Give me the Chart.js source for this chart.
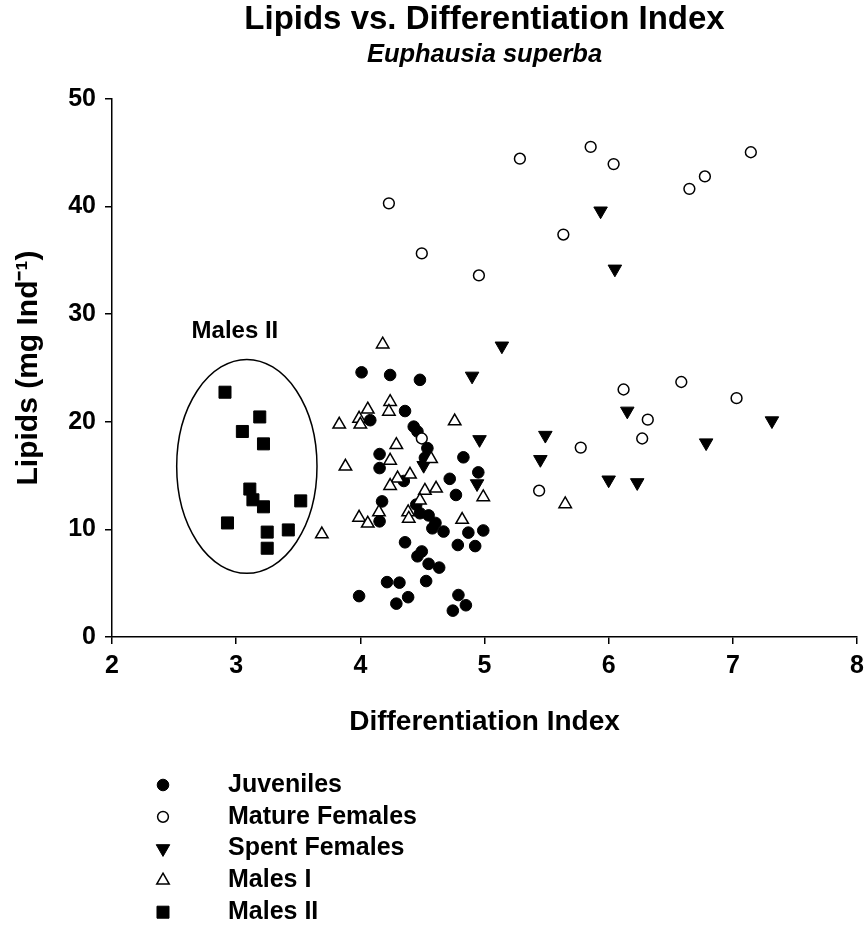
<!DOCTYPE html>
<html><head><meta charset="utf-8">
<script src="https://cdn.jsdelivr.net/npm/chart.js@4.4.1/dist/chart.umd.min.js"></script>
<style>html,body{margin:0;padding:0;background:#fff}canvas{display:block}</style>
</head><body>
<canvas id="c" width="865" height="928"></canvas>
<script>
// ---------- data ----------
const categories = ['Juveniles', 'Mature Females', 'Spent Females', 'Males I', 'Males II'];

const juveniles = [[4.01,24.6],[4.24,24.35],[4.48,23.9],[4.36,21.0],[4.08,20.15],[4.43,19.55],[4.46,19.1],
  [4.54,17.55],[4.52,16.65],[4.83,16.7],[4.155,17.0],[4.155,15.7],[4.95,15.3],[4.35,14.5],[4.72,14.7],
  [4.77,13.2],[4.175,12.6],[4.45,12.3],[4.155,10.75],[4.48,11.5],[4.55,11.3],[4.605,10.6],[4.58,10.1],
  [4.67,9.8],[4.87,9.7],[4.99,9.9],[4.785,8.55],[4.925,8.45],[4.36,8.8],[4.495,7.95],[4.46,7.5],[4.55,6.8],
  [4.635,6.45],[4.215,5.1],[4.315,5.05],[4.53,5.2],[3.99,3.8],[4.29,3.1],[4.385,3.7],[4.79,3.9],[4.85,2.95],[4.745,2.45]];

const matureFemales = [[4.23,40.3],[5.285,44.45],[5.855,45.55],[6.04,43.95],[7.145,45.05],[6.775,42.8],
  [6.65,41.65],[4.495,35.65],[4.955,33.6],[5.635,37.4],[6.12,23.0],[6.585,23.7],[7.03,22.2],[6.315,20.2],
  [6.27,18.45],[5.775,17.6],[5.44,13.6],[4.495,18.45]];

const spentFemales = [[5.935,39.6],[6.05,34.2],[5.14,27.05],[4.90,24.25],[4.96,18.35],[4.51,15.95],[4.94,14.25],
  [6.15,21.0],[7.315,20.1],[6.785,18.05],[5.49,18.75],[5.45,16.5],[6.0,14.6],[6.23,14.35]];

const malesI = [[4.18,27.2],[4.24,21.85],[4.06,21.15],[4.23,20.95],[3.99,20.3],[3.83,19.75],[4.0,19.75],
  [4.76,20.05],[4.29,17.85],[4.24,16.4],[4.57,16.55],[3.88,15.85],[4.40,15.1],[4.30,14.75],[4.24,14.05],
  [4.52,13.6],[4.61,13.8],[4.99,13.0],[4.48,12.7],[4.385,11.6],[4.39,11.0],[4.15,11.6],[3.99,11.1],
  [4.06,10.55],[4.82,10.9],[3.69,9.55],[5.65,12.35]];

const malesII = [[2.91,22.75],[3.19,20.45],[3.05,19.1],[3.22,17.95],[3.11,13.75],[3.135,12.75],[3.22,12.1],
  [3.52,12.65],[2.93,10.6],[3.25,9.75],[3.42,9.95],[3.25,8.25]];

const xTicks = [2, 3, 4, 5, 6, 7, 8];
const yTicks = [0, 10, 20, 30, 40, 50];

const chartTitle = 'Lipids vs. Differentiation Index';
const chartSubtitle = 'Euphausia superba';
const xTitle = 'Differentiation Index';
const yTitle = 'Lipids (mg Ind\u207B\u00B9)';
const groupNote = 'Males II';

// annotation (data units)
const noteEllipse = { cx: 3.086, cy: 15.86, rx: 0.565, ry: 9.94 };
const notePos = { x: 2.99, y: 28.4 };

// ---------- styles ----------
const FONT = "'Liberation Sans', Arial, Helvetica, sans-serif";
const seriesData = [juveniles, matureFemales, spentFemales, malesI, malesII];
const seriesStyle = [
  { pointStyle: 'circle',   radius: 5.8, bg: '#000', bw: 1,   rot: 0 },
  { pointStyle: 'circle',   radius: 5.4, bg: '#fff', bw: 1.5, rot: 0 },
  { pointStyle: 'triangle', radius: 7.8, bg: '#000', bw: 1,   rot: 180 },
  { pointStyle: 'triangle', radius: 7.2, bg: '#fff', bw: 1.5, rot: 0 },
  { pointStyle: 'rect',     radius: 8.5, bg: '#000', bw: 1,   rot: 0 }
];

Chart.defaults.font.family = FONT;
Chart.defaults.color = '#000';

const datasets = categories.map((name, i) => ({
  label: name,
  data: seriesData[i].map(([x, y]) => ({ x, y })),
  pointStyle: seriesStyle[i].pointStyle,
  pointRadius: seriesStyle[i].radius,
  pointHoverRadius: seriesStyle[i].radius,
  pointBackgroundColor: seriesStyle[i].bg,
  pointBorderColor: '#000',
  pointBorderWidth: seriesStyle[i].bw,
  pointRotation: seriesStyle[i].rot,
  showLine: false,
  order: categories.length - i
}));

const whiteBg = {
  id: 'whiteBg',
  beforeDraw(chart) {
    const c = chart.ctx; c.save(); c.fillStyle = '#fff';
    c.fillRect(0, 0, chart.width, chart.height); c.restore();
  }
};

const annotation = {
  id: 'annotation',
  afterDatasetsDraw(chart) {
    const c = chart.ctx, xs = chart.scales.x, ys = chart.scales.y;
    const cx = xs.getPixelForValue(noteEllipse.cx), cy = ys.getPixelForValue(noteEllipse.cy);
    const rx = Math.abs(xs.getPixelForValue(noteEllipse.cx + noteEllipse.rx) - cx);
    const ry = Math.abs(ys.getPixelForValue(noteEllipse.cy + noteEllipse.ry) - cy);
    c.save();
    c.beginPath(); c.ellipse(cx, cy, rx, ry, 0, 0, Math.PI * 2);
    c.lineWidth = 1.5; c.strokeStyle = '#000'; c.stroke();
    c.fillStyle = '#000'; c.font = 'bold 24px ' + FONT;
    c.textAlign = 'center'; c.textBaseline = 'middle';
    c.fillText(groupNote, xs.getPixelForValue(notePos.x), ys.getPixelForValue(notePos.y));
    c.restore();
  }
};

const LEG = { markerX: 163, textX: 228, y0: 785, dy: 31.8, font: 25 };
const sideLegend = {
  id: 'sideLegend',
  afterDraw(chart) {
    const c = chart.ctx;
    chart.data.datasets.forEach((ds, i) => {
      const y = LEG.y0 + i * LEG.dy;
      c.save();
      c.fillStyle = ds.pointBackgroundColor; c.strokeStyle = ds.pointBorderColor; c.lineWidth = ds.pointBorderWidth;
      Chart.helpers.drawPoint(c, { pointStyle: ds.pointStyle, rotation: ds.pointRotation,
        radius: ds.pointRadius, borderWidth: ds.pointBorderWidth }, LEG.markerX, y);
      c.fillStyle = '#000'; c.font = 'bold ' + LEG.font + 'px ' + FONT;
      c.textAlign = 'left'; c.textBaseline = 'middle';
      c.fillText(ds.label, LEG.textX, y);
      c.restore();
    });
  }
};

const axisCommon = {
  type: 'linear',
  grid: { drawOnChartArea: false, drawTicks: true, tickLength: 7, color: '#000', tickColor: '#000', lineWidth: 1.5, tickWidth: 1.5 },
  border: { display: true, color: '#000', width: 1.5 }
};

new Chart(document.getElementById('c'), {
  type: 'scatter',
  data: { datasets },
  options: {
    responsive: false,
    animation: false,
    devicePixelRatio: 1,
    events: [],
    layout: { autoPadding: false, padding: { left: 0, right: 8, top: 0, bottom: 928 - 739 } },
    plugins: {
      legend: { display: false },
      tooltip: { enabled: false },
      title: { display: true, text: chartTitle, fullSize: false, color: '#000',
        font: { size: 33, weight: 'bold' }, padding: { top: 0, bottom: 0 } },
      subtitle: { display: true, text: chartSubtitle, fullSize: false, color: '#000',
        font: { size: 25.5, weight: 'bold', style: 'italic' }, padding: { top: 0, bottom: 28.8 } }
    },
    scales: {
      x: Object.assign({}, axisCommon, {
        position: 'bottom', min: xTicks[0], max: xTicks[xTicks.length - 1],
        afterBuildTicks: s => { s.ticks = xTicks.map(v => ({ value: v })); },
        ticks: { color: '#000', font: { size: 25, weight: 'bold' }, padding: 7, maxRotation: 0 },
        title: { display: true, text: xTitle, color: '#000', font: { size: 28, weight: 'bold' }, padding: { top: 0, bottom: 0 } },
        afterFit: s => { s.height = 102; s.paddingLeft = 0; s.paddingRight = 0; }
      }),
      y: Object.assign({}, axisCommon, {
        position: 'left', min: yTicks[0], max: yTicks[yTicks.length - 1],
        afterBuildTicks: s => { s.ticks = yTicks.map(v => ({ value: v })); },
        ticks: { color: '#000', font: { size: 25, weight: 'bold' }, padding: 9 },
        title: { display: true, text: yTitle, color: '#000', font: { size: 30, weight: 'bold' }, padding: { top: 11, bottom: 0 } },
        afterFit: s => { s.width = 112; s.paddingTop = 0; s.paddingBottom = 0; }
      })
    }
  },
  plugins: [whiteBg, annotation, sideLegend]
});
</script>
</body></html>
